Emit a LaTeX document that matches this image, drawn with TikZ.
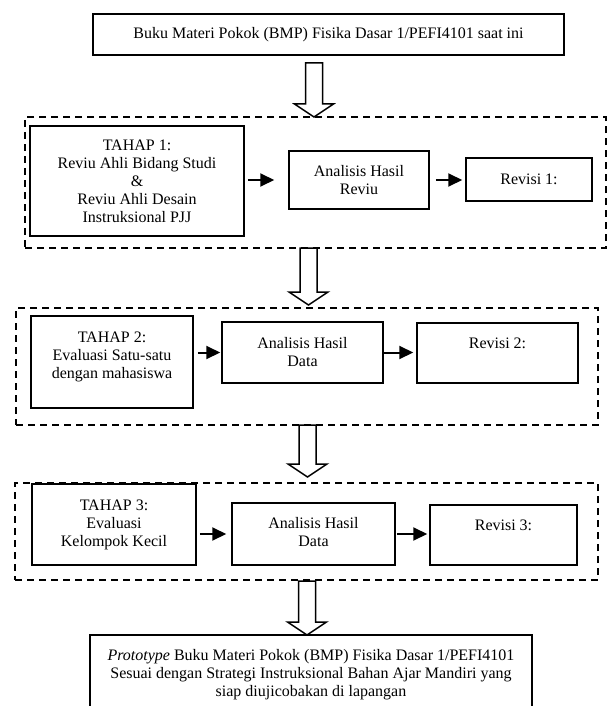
\documentclass[tikz,border=0pt]{standalone}
\usepackage{fontspec}
\setmainfont{Liberation Serif}
\usetikzlibrary{calc,arrows.meta}

\tikzset{
  box/.style={draw, line width=1.5pt, inner sep=0pt, align=center, font=\fontsize{16}{18}\selectfont},
  stagebox/.style={draw, line width=1.5pt, dash pattern=on 7pt off 5pt, inner sep=0pt},
  toptext/.style={anchor=north, inner sep=0pt, align=center, font=\fontsize{16}{18}\selectfont},
  flow/.style={line width=2pt, -{Triangle[length=14pt,width=13pt]}},
  hollow/.style={line width=1.5pt, fill=white, line join=miter},
}
% block arrow from shaft top (#1) down to tip (#2)
\newcommand{\blockarrow}[2]{%
  \draw[hollow] ($(#1)+(-8.5,0)$) -- ($(#2)+(-8.5,-13)$) -- ($(#2)+(-19.5,-13)$) -- (#2)
    -- ($(#2)+(19.5,-13)$) -- ($(#2)+(8.5,-13)$) -- ($(#1)+(8.5,0)$) -- cycle;
}

\begin{document}
\begin{tikzpicture}[x=1pt, y=-1pt]
\clip (0,0) rectangle (608,706);

% starting book
\node[box, minimum width=471pt, minimum height=41pt] (src) at (328.5,34.5)
  {Buku Materi Pokok (BMP) Fisika Dasar 1/PEFI4101 saat ini};

% stage frames
\node[stagebox, minimum width=581pt, minimum height=131pt] (stage1) at (315.5,182.5) {};
\node[stagebox, minimum width=582pt, minimum height=117pt] (stage2) at (307,366.5) {};
\node[stagebox, minimum width=583pt, minimum height=97pt] (stage3) at (306.5,531.5) {};

% stage 1
\node[box, minimum width=214pt, minimum height=110pt] (tahap1) at (137,181)
  {TAHAP 1:\\Reviu Ahli Bidang Studi\\\&\\Reviu Ahli Desain\\Instruksional PJJ};
\node[box, minimum width=140pt, minimum height=58pt] (anl1) at (359,180) {Analisis Hasil\\Reviu};
\node[box, minimum width=126pt, minimum height=43pt] (rev1) at (529,179.5) {Revisi 1:};

% stage 2
\node[box, minimum width=162pt, minimum height=92pt] (tahap2) at (112,362) {};
\node[toptext] (tahap2-t) at ($(tahap2.north)+(0,16)$) {TAHAP 2:\\Evaluasi Satu-satu\\dengan mahasiswa};
\node[box, minimum width=161pt, minimum height=61pt] (anl2) at (302.5,352.5) {Analisis Hasil\\Data};
\node[box, minimum width=161pt, minimum height=60pt] (rev2) at (497.5,353) {};
\node[toptext] (rev2-t) at ($(rev2.north)+(0,15)$) {Revisi 2:};

% stage 3
\node[box, minimum width=164pt, minimum height=81pt] (tahap3) at (114,524.5)
  {TAHAP 3:\\Evaluasi\\Kelompok Kecil};
\node[box, minimum width=163pt, minimum height=62pt] (anl3) at (313.5,534) {};
\node[toptext] (anl3-t) at ($(anl3.north)+(0,15)$) {Analisis Hasil\\Data};
\node[box, minimum width=147pt, minimum height=60pt] (rev3) at (503.5,535) {};
\node[toptext] (rev3-t) at ($(rev3.north)+(0,15)$) {Revisi 3:};

% result
\node[box, minimum width=442pt, minimum height=85pt] (target) at (311,677.5) {};
\node[toptext] (target-t) at ($(target.north)+(0,15)$)
  {\textit{Prototype} Buku Materi Pokok (BMP) Fisika Dasar 1/PEFI4101\\
   Sesuai dengan Strategi Instruksional Bahan Ajar Mandiri yang\\
   siap diujicobakan di lapangan};

% flow inside the stages
\draw[flow, shorten <=3pt, shorten >=14pt] (tahap1.east |- anl1.west) -- (anl1.west);
\draw[flow, shorten <=6pt, shorten >=3pt] (anl1.east) -- (anl1.east -| rev1.west);
\draw[flow, shorten <=4pt, shorten >=1pt] (tahap2.east |- anl2.west) -- (anl2.west);
\draw[flow, shorten >=3pt] (anl2.east) -- (anl2.east -| rev2.west);
\draw[flow, shorten <=3pt, shorten >=5pt] (tahap3.east |- anl3.west) -- (anl3.west);
\draw[flow, shorten <=1pt, shorten >=2pt] (anl3.east) -- (anl3.east -| rev3.west);

% block arrows between the stages
\coordinate (a1top) at (314,63);   \coordinate (a1tip) at (314,117);
\coordinate (a2top) at (308.5,248); \coordinate (a2tip) at (308.5,305);
\coordinate (a3top) at (307.5,425); \coordinate (a3tip) at (307.5,477);
\coordinate (a4top) at (307,581);   \coordinate (a4tip) at (307,635);
\blockarrow{a1top}{a1tip}
\blockarrow{a2top}{a2tip}
\blockarrow{a3top}{a3tip}
\blockarrow{a4top}{a4tip}
\end{tikzpicture}
\end{document}
